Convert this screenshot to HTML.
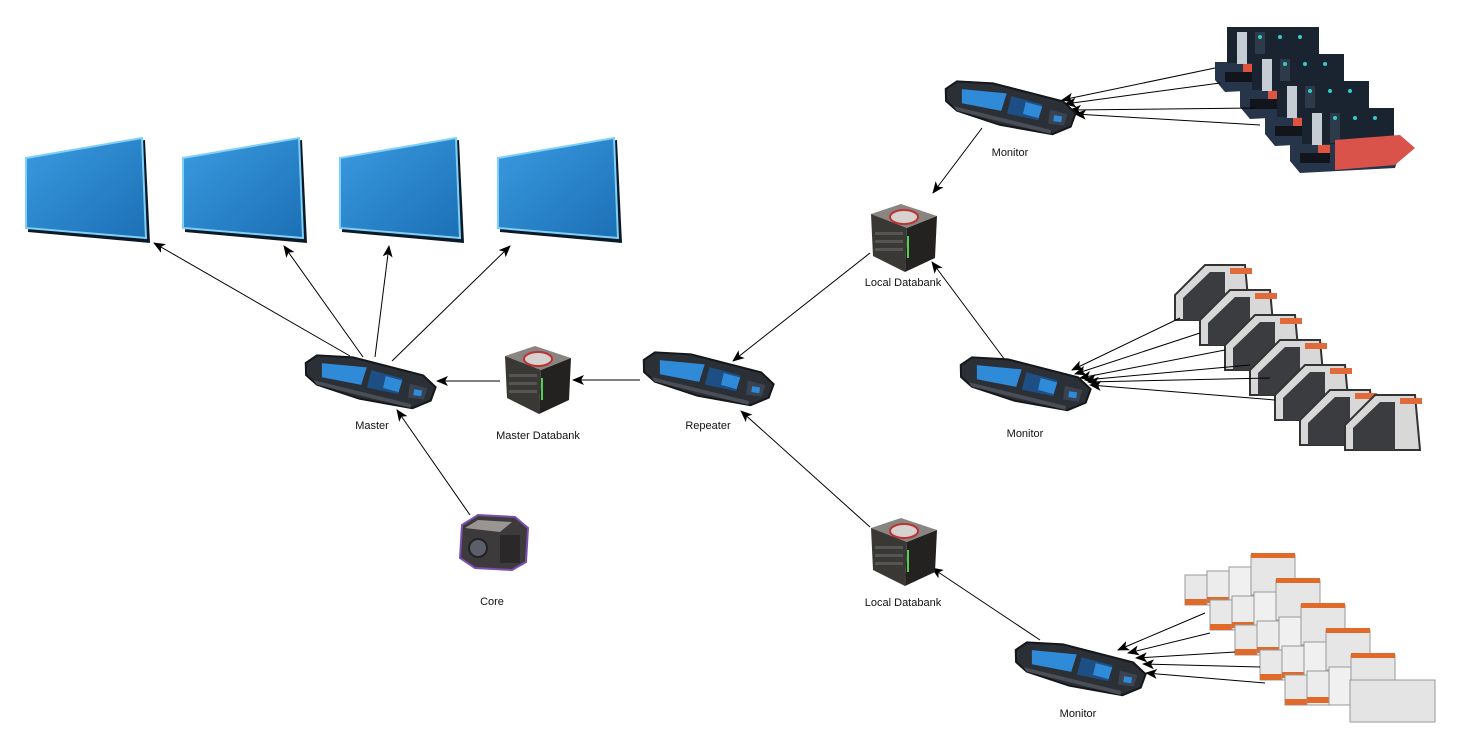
<!DOCTYPE html>
<html><head><meta charset="utf-8">
<style>
html,body{margin:0;padding:0;background:#fff;}
svg{display:block;}
text{font-family:"Liberation Sans",sans-serif;font-size:11px;fill:#111;}
</style></head>
<body>
<svg id="diagram" width="1457" height="751" viewBox="0 0 1457 751" xmlns="http://www.w3.org/2000/svg">
<defs>
<marker id="ah" markerWidth="12" markerHeight="10" refX="11" refY="5" orient="auto" markerUnits="userSpaceOnUse">
<path d="M0,0 L12,5 L0,10 L3,5 z" fill="#000"/>
</marker>
<linearGradient id="scr" x1="0" y1="0" x2="1" y2="1">
<stop offset="0" stop-color="#3a9be0"/><stop offset="1" stop-color="#1c6fb5"/>
</linearGradient>
<g id="term">
<polygon points="-66,-8 -56,-17 -20,-20 52,-12 66,-2 63,12 46,22 -8,20 -52,12 -64,4" fill="#2b2f36" stroke="#15171b" stroke-width="2"/>
<polygon points="-50,-10 -5,-12 -8,6 -48,4" fill="#2f8ad8"/>
<polygon points="0,-10 32,-6 30,10 -2,8" fill="#1d4f85"/>
<polygon points="15,-6 32,-4 30,8 14,6" fill="#2f8ad8"/>
<polygon points="40,-2 58,0 56,12 40,12" fill="#3b4250"/>
<rect x="45" y="3" width="8" height="6" fill="#2f8ad8"/>
<polygon points="-56,8 44,18 44,22 -52,12" fill="#4a4f57"/>
</g>
<g id="dbank">
<polygon points="-32,-22 -2,-32 34,-20 4,-8" fill="#8a8580"/>
<polygon points="-32,-22 4,-8 2,36 -30,20" fill="#3a3835"/>
<polygon points="4,-8 34,-20 32,22 2,36" fill="#242221"/>
<ellipse cx="1" cy="-19" rx="14" ry="7" fill="#d6d2cf" stroke="#b33" stroke-width="2"/>
<rect x="-28" y="-4" width="28" height="3" fill="#555"/>
<rect x="-28" y="4" width="28" height="3" fill="#555"/>
<rect x="-28" y="12" width="28" height="3" fill="#555"/>
<rect x="4" y="0" width="2" height="22" fill="#5c5"/>
</g>
<g id="dark-unit">
<polygon points="0,0 95,0 110,10 105,25 10,30 0,18" fill="#27354a"/>
<rect x="12" y="-35" width="92" height="36" fill="#1a2330"/>
<rect x="22" y="-30" width="10" height="32" fill="#c5ccd4"/>
<rect x="40" y="-30" width="10" height="30" fill="#2c3a4a"/>
<circle cx="45" cy="-25" r="2" fill="#3cc"/><circle cx="65" cy="-25" r="2" fill="#3cc"/><circle cx="85" cy="-25" r="2" fill="#3cc"/>
<rect x="28" y="2" width="12" height="14" fill="#e0543f"/>
<rect x="10" y="10" width="30" height="10" fill="#12161c"/>
</g>
<g id="white-unit">
<polygon points="0,30 0,5 30,-25 70,-25 75,30" fill="#d8d8d8" stroke="#333" stroke-width="2"/>
<polygon points="8,30 8,8 35,-18 50,-18 50,30" fill="#3a3c40"/>
<rect x="55" y="-22" width="22" height="6" fill="#e06a3a"/>
</g>
<g id="tank-unit">
<rect x="0" y="0" width="22" height="30" fill="#e8e8e8" stroke="#999"/>
<rect x="0" y="24" width="22" height="6" fill="#e06a2a"/>
<rect x="22" y="-4" width="22" height="34" fill="#ececec" stroke="#999"/>
<rect x="22" y="22" width="22" height="6" fill="#e06a2a"/>
<rect x="44" y="-8" width="22" height="38" fill="#f0f0f0" stroke="#999"/>
<rect x="66" y="-20" width="44" height="40" fill="#e6e6e6" stroke="#999"/>
<rect x="66" y="-22" width="44" height="5" fill="#e06a2a"/>
</g>
</defs>

<!-- screens -->
<g><polygon points="30,160 145,140 150,243 28,232" fill="#0c1a28"/><polygon points="26,158 142,138 146,238 26,228" fill="url(#scr)" stroke="#7fd0f7" stroke-width="2"/></g>
<g><polygon points="187,160 302,140 307,243 185,232" fill="#0c1a28"/><polygon points="183,158 299,138 303,238 183,228" fill="url(#scr)" stroke="#7fd0f7" stroke-width="2"/></g>
<g><polygon points="344,160 459,140 464,243 342,232" fill="#0c1a28"/><polygon points="340,158 456,138 460,238 340,228" fill="url(#scr)" stroke="#7fd0f7" stroke-width="2"/></g>
<g><polygon points="502,160 617,140 622,243 500,232" fill="#0c1a28"/><polygon points="498,158 614,138 618,238 498,228" fill="url(#scr)" stroke="#7fd0f7" stroke-width="2"/></g>

<!-- machines -->
<g>
<use href="#dark-unit" transform="translate(1215,62)"/>
<use href="#dark-unit" transform="translate(1240,89)"/>
<use href="#dark-unit" transform="translate(1265,116)"/>
<use href="#dark-unit" transform="translate(1290,143)"/>
<polygon points="1335,140 1400,135 1415,148 1395,165 1335,170" fill="#d9534a"/>
</g>
<g>
<use href="#white-unit" transform="translate(1175,290)"/>
<use href="#white-unit" transform="translate(1200,315)"/>
<use href="#white-unit" transform="translate(1225,340)"/>
<use href="#white-unit" transform="translate(1250,365)"/>
<use href="#white-unit" transform="translate(1275,390)"/>
<use href="#white-unit" transform="translate(1300,415)"/>
<use href="#white-unit" transform="translate(1345,420)"/>
</g>
<g>
<use href="#tank-unit" transform="translate(1185,575)"/>
<use href="#tank-unit" transform="translate(1210,600)"/>
<use href="#tank-unit" transform="translate(1235,625)"/>
<use href="#tank-unit" transform="translate(1260,650)"/>
<use href="#tank-unit" transform="translate(1285,675)"/>
<rect x="1350" y="680" width="85" height="42" fill="#e4e4e4" stroke="#999"/>
</g>

<!-- edges -->
<g stroke="#000" stroke-width="1" marker-end="url(#ah)">
<line x1="350" y1="356" x2="154" y2="243"/>
<line x1="363" y1="357" x2="284" y2="246"/>
<line x1="375" y1="357" x2="389" y2="246"/>
<line x1="392" y1="361" x2="510" y2="246"/>
<line x1="500" y1="381" x2="437" y2="381"/>
<line x1="640" y1="380" x2="573" y2="380"/>
<line x1="870" y1="253" x2="733" y2="361"/>
<line x1="870" y1="527" x2="741" y2="411"/>
<line x1="982" y1="128" x2="933" y2="193"/>
<line x1="1005" y1="360" x2="932" y2="262"/>
<line x1="1040" y1="640" x2="932" y2="568"/>
<line x1="470" y1="515" x2="397" y2="410"/>
<line x1="1215" y1="68" x2="1062" y2="100"/>
<line x1="1220" y1="83" x2="1065" y2="104"/>
<line x1="1255" y1="108" x2="1070" y2="110"/>
<line x1="1260" y1="125" x2="1075" y2="114"/>
<line x1="1180" y1="318" x2="1072" y2="370"/>
<line x1="1200" y1="333" x2="1075" y2="374"/>
<line x1="1225" y1="350" x2="1080" y2="378"/>
<line x1="1250" y1="365" x2="1085" y2="380"/>
<line x1="1270" y1="378" x2="1088" y2="382"/>
<line x1="1275" y1="400" x2="1090" y2="385"/>
<line x1="1205" y1="613" x2="1118" y2="650"/>
<line x1="1210" y1="633" x2="1128" y2="653"/>
<line x1="1235" y1="652" x2="1136" y2="658"/>
<line x1="1260" y1="667" x2="1143" y2="664"/>
<line x1="1265" y1="683" x2="1146" y2="673"/>
</g>

<!-- nodes -->
<use href="#term" transform="translate(370,380) rotate(8)"/>
<use href="#term" transform="translate(708,377) rotate(8)"/>
<use href="#term" transform="translate(1010,106) rotate(8)"/>
<use href="#term" transform="translate(1025,382) rotate(8)"/>
<use href="#term" transform="translate(1080,667) rotate(8)"/>
<use href="#dbank" transform="translate(537,378)"/>
<use href="#dbank" transform="translate(903,236)"/>
<use href="#dbank" transform="translate(903,550)"/>
<g>
<polygon points="462,525 478,515 515,517 528,528 526,562 512,570 475,568 460,558" fill="#3c3a3a" stroke="#7a4fb0" stroke-width="2"/>
<polygon points="465,528 478,520 512,522 500,532" fill="#9a9590"/>
<circle cx="478" cy="548" r="9" fill="#5a5f6a" stroke="#222" stroke-width="2"/>
<rect x="500" y="535" width="20" height="28" fill="#2a2828"/>
</g>

<!-- labels -->
<text x="372" y="429" text-anchor="middle">Master</text>
<text x="538" y="439" text-anchor="middle">Master Databank</text>
<text x="708" y="429" text-anchor="middle">Repeater</text>
<text x="903" y="286" text-anchor="middle">Local Databank</text>
<text x="903" y="606" text-anchor="middle">Local Databank</text>
<text x="1010" y="156" text-anchor="middle">Monitor</text>
<text x="1025" y="437" text-anchor="middle">Monitor</text>
<text x="1078" y="717" text-anchor="middle">Monitor</text>
<text x="492" y="605" text-anchor="middle">Core</text>
</svg>
</body></html>
